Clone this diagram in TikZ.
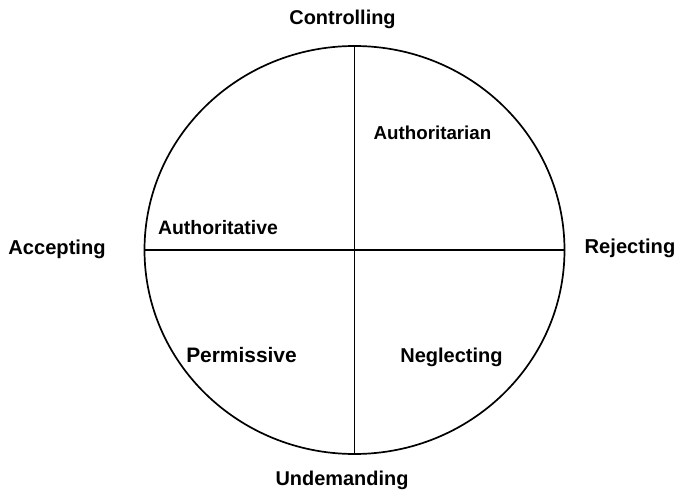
\documentclass[tikz,border=0pt]{standalone}
\usepackage{fontspec}
\setmainfont{Liberation Sans}
\usetikzlibrary{shapes.geometric}
\begin{document}
\begin{tikzpicture}[x=1bp,y=-1bp,
  lbl/.style={anchor=base,inner sep=0pt,font=\bfseries},
  ring/.style={draw=black,line width=1.7bp,ellipse,minimum width=420bp,minimum height=408bp,inner sep=0pt},
  axis/.style={draw=black,line width=1.4bp}]
\useasboundingbox (0,0) rectangle (680,498);
\node[ring] (c) at (354.5,250) {};
\draw[axis] (c.north) -- (c.south);
\draw[axis] (c.west) -- (c.east);
\node[lbl,font=\fontsize{20}{24}\bfseries] (top) at (342.5,24.5) {Controlling};
\node[lbl,font=\fontsize{20}{24}\bfseries] (bot) at (342,485) {Undemanding};
\node[lbl,font=\fontsize{20.2}{24}\bfseries] (lft) at (57,255) {Accepting};
\node[lbl,font=\fontsize{20.2}{24}\bfseries] (rgt) at (630,254) {Rejecting};
\node[lbl,font=\fontsize{19.5}{23}\bfseries] (q2) at (218,235) {Authoritative};
\node[lbl,font=\fontsize{18.8}{22}\bfseries] (q1) at (432.5,140) {Authoritarian};
\node[lbl,font=\fontsize{21}{24}\bfseries] (q3) at (241.5,362) {Permissive};
\node[lbl,font=\fontsize{20.1}{24}\bfseries] (q4) at (451.5,362) {Neglecting};
\end{tikzpicture}
\end{document}
